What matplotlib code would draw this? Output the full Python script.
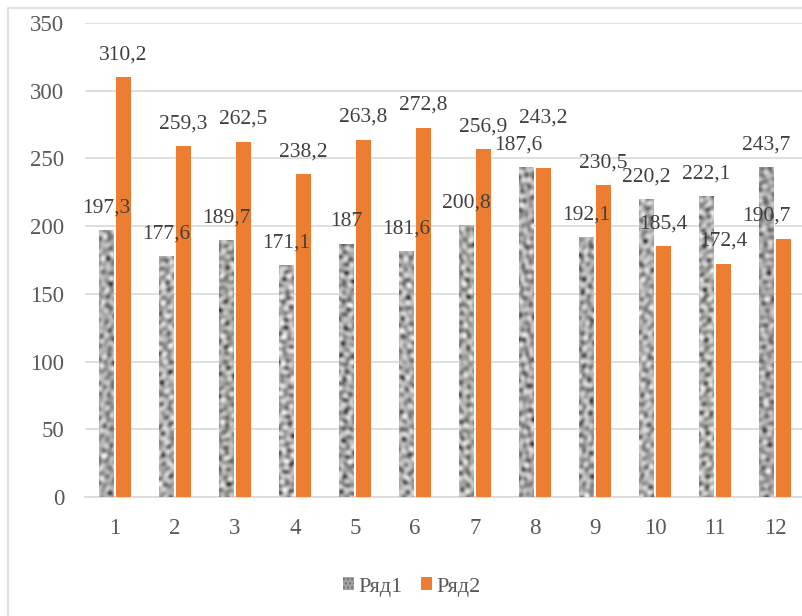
import matplotlib.pyplot as plt
import numpy as np
from matplotlib.patches import Rectangle, Patch

plt.rcParams['font.family'] = ['Liberation Serif', 'DejaVu Serif']

# data
categories = ['1', '2', '3', '4', '5', '6', '7', '8', '9', '10', '11', '12']
ryad1 = [197.3, 177.6, 189.7, 171.1, 187.0, 181.6, 200.8, 243.5, 192.1, 220.2, 222.1, 243.7]
ryad2 = [310.2, 259.3, 262.5, 238.2, 263.8, 272.8, 256.9, 243.2, 230.5, 185.4, 172.4, 190.7]
labels1 = ['197,3', '177,6', '189,7', '171,1', '187', '181,6', '200,8', '187,6', '192,1', '220,2', '222,1', '243,7']
labels2 = ['310,2', '259,3', '262,5', '238,2', '263,8', '272,8', '256,9', '243,2', '230,5', '185,4', '172,4', '190,7']
series_names = ['Ряд1', 'Ряд2']

orange = '#ED7D31'
grid_c = '#d9d9d9'
W, H = 802, 616

fig = plt.figure(figsize=(W / 100, H / 100), dpi=100)
ax = fig.add_axes([85 / W, (H - 497) / H, 720 / W, 474 / H])

# chart area border (cut off on the right and bottom like the original)
fig.patches.append(Rectangle((8 / W, -0.02), 1.0, (H - 8) / H + 0.02, transform=fig.transFigure,
                             fill=False, edgecolor=grid_c, lw=1.2))

x = np.arange(1, len(categories) + 1)
bw = 0.235
off = 0.142


def granite(h, w, k):
    # mottled stone-like look: many waves in golden-angle directions
    yy, xx = np.mgrid[0:h, 0:w].astype(float)
    v = np.zeros((h, w))
    for j in range(11):
        ang = j * 2.39996 + k
        fr = 0.45 + 0.5 * ((j * 0.618) % 1.0)
        v += np.sin(fr * (np.cos(ang) * xx + np.sin(ang) * yy) + 1.7 * j + 3.1 * k)
    v = (v - v.min()) / (v.max() - v.min())
    return 0.2 + 0.75 * v ** 0.7


bars1 = ax.bar(x - off, ryad1, bw, color='#a0a0a0', zorder=2)
for i, b in enumerate(bars1):
    h_px = max(int(b.get_height() * 474 / 350), 2)
    img = ax.imshow(granite(h_px, 15, i * 0.37), cmap='gray', vmin=0, vmax=1,
                    extent=(b.get_x(), b.get_x() + bw, 0, b.get_height()),
                    interpolation='bilinear', zorder=3, aspect='auto')
    img.set_clip_path(b)
bars2 = ax.bar(x + off, ryad2, bw, color=orange, zorder=3)

# a few labels were moved by hand in the original
nudge = {(1, 7): (0, 20), (1, 11): (-12, 0), (0, 7): (-6, 0)}
for s, (bars, labs) in enumerate([(bars1, labels1), (bars2, labels2)]):
    for i, (b, t) in enumerate(zip(bars, labs)):
        dx, dy = nudge.get((s, i), (0, 0))
        ax.annotate(t, (b.get_x() + bw / 2, b.get_height()), xytext=(dx, 16 + dy),
                    textcoords='offset points', ha='center', va='center',
                    fontsize=15.5, color='#404040', zorder=5)

ax.set_xlim(0.5, 12.5)
ax.set_ylim(0, 350)
ax.set_aspect('auto')
ax.set_yticks(np.arange(0, 351, 50))
ax.set_xticks(x)
ax.set_xticklabels(categories)
ax.tick_params(axis='both', length=0, labelsize=16.5, labelcolor='#595959')
ax.tick_params(axis='y', pad=15)
ax.tick_params(axis='x', pad=15)
ax.grid(axis='y', color=grid_c, lw=1.2, zorder=0)
for s in ['left', 'right', 'top']:
    ax.spines[s].set_visible(False)
ax.spines['bottom'].set_color(grid_c)
ax.spines['bottom'].set_linewidth(1.2)
ax.set_axisbelow(True)

handles = [Patch(facecolor='#a0a0a0', hatch='....', edgecolor='#707070', lw=0), Patch(facecolor=orange)]
fig.legend(handles, series_names, loc='center', bbox_to_anchor=(412 / W, 1 - 587 / H), ncol=2,
           frameon=False, fontsize=16, handlelength=0.5, handleheight=0.5, handletextpad=0.2,
           columnspacing=0.8, labelcolor='#595959')

fig.savefig('out.png', dpi=100)
